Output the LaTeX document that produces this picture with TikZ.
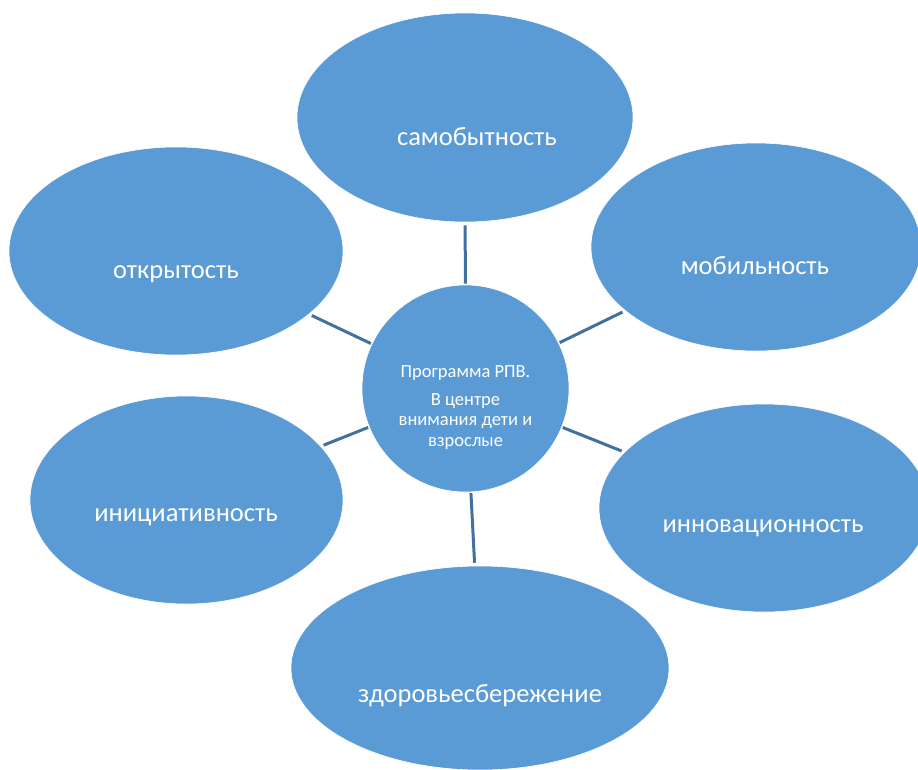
\documentclass[tikz,border=0pt]{standalone}
\usepackage{fontspec}
\setmainfont{Carlito}
\usetikzlibrary{shapes.geometric}
\definecolor{bubble}{HTML}{5B9BD5}
\definecolor{linkc}{HTML}{41719C}
\tikzset{
  bub/.style={ellipse, fill=bubble, draw=white, line width=0.6pt, inner sep=0pt},
  lbl/.style={text=white, font=\fontsize{26.5}{30}\selectfont, inner sep=0pt, anchor=base},
  link/.style={draw=linkc, line width=3pt, shorten <=1pt, shorten >=3pt}
}
\begin{document}
\begin{tikzpicture}[x=1pt,y=1pt]
\useasboundingbox (0,0) rectangle (918,-769);
\clip (0,0) rectangle (918,-769);
\node[bub, minimum width=336pt, minimum height=209pt] (sam) at (465,-117.5) {};
\node[bub, minimum width=334pt, minimum height=208pt] (otk) at (176,-251) {};
\node[bub, minimum width=330pt, minimum height=208pt] (mob) at (756,-247) {};
\node[bub, minimum width=313pt, minimum height=208pt] (ini) at (186.5,-500) {};
\node[bub, minimum width=330pt, minimum height=208pt] (inn) at (764,-508) {};
\node[bub, minimum width=378pt, minimum height=204pt] (zdo) at (480,-668) {};
\node[circle, fill=bubble, draw=white, line width=0.6pt, minimum size=207pt, inner sep=0pt] (c) at (465.5,-388.5) {};
\draw[link] (c) -- (sam);
\draw[link] (c) -- (otk);
\draw[link] (c) -- (mob);
\draw[link] (c) -- (ini);
\draw[link] (c) -- (inn);
\draw[link] (c) -- (zdo);
\node[lbl] (tsam) at (477,-145) {самобытность};
\node[lbl] (totk) at (176,-278) {открытость};
\node[lbl] (tmob) at (755,-274) {мобильность};
\node[lbl] (tini) at (186,-521) {инициативность};
\node[lbl] (tinn) at (763,-532) {инновационность};
\node[lbl] (tzdo) at (480,-702) {здоровьесбережение};
\node[text=white, font=\fontsize{18.5}{20.5}\selectfont, align=center, inner sep=0pt, anchor=base] (tc) at (465.5,-446)
  {Программа РПВ.\\[7.5pt]В центре\\внимания дети и\\взрослые};
\end{tikzpicture}
\end{document}
